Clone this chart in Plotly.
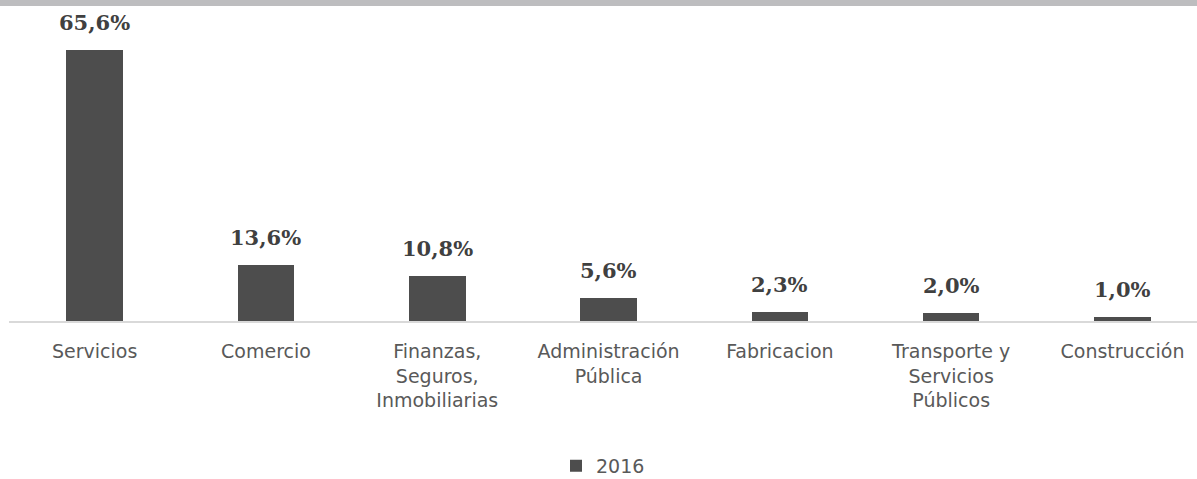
import plotly.graph_objects as go

# Distribución por sector, 2016
sectores = [
    "Servicios",
    "Comercio",
    "Finanzas,<br>Seguros,<br>Inmobiliarias",
    "Administración<br>Pública",
    "Fabricacion",
    "Transporte y<br>Servicios<br>Públicos",
    "Construcción",
]
valores_2016 = [65.6, 13.6, 10.8, 5.6, 2.3, 2.0, 1.0]
serie = "2016"

W, H = 1197, 479
bar_color = "#4d4d4d"
text_color = "#595959"

fig = go.Figure()
fig.add_trace(go.Bar(
    x=sectores,
    y=valores_2016,
    name=serie,
    marker=dict(color=bar_color, line=dict(width=0)),
    width=0.33,
    showlegend=True,
))

# Etiquetas de valor sobre cada barra
for s, v in zip(sectores, valores_2016):
    fig.add_annotation(
        x=s, y=v, yref="y", xref="x",
        text=f"<b>{v:.1f}%</b>".replace(".", ","),
        showarrow=False, yanchor="bottom", yshift=13,
        font=dict(family="DejaVu Serif", size=21, color="#404040"),
    )

# Franja gris superior
fig.add_shape(type="rect", xref="paper", yref="paper",
              x0=-0.02, x1=1.02, y0=1.0, y1=1.03,
              fillcolor="#bdbdbf", line=dict(width=0), layer="above")

fig.update_layout(
    width=W, height=H,
    margin=dict(l=9, r=0, t=6, b=158, autoexpand=False),
    paper_bgcolor="white",
    plot_bgcolor="white",
    bargap=0,
    xaxis=dict(
        type="category",
        range=[-0.5, 6.435],
        automargin=False,
        showline=True, linecolor="#d9d9d9", linewidth=2,
        showgrid=False, ticks="",
        ticklabelstandoff=12,
        tickfont=dict(family="DejaVu Sans", size=19, color=text_color),
    ),
    yaxis=dict(
        range=[0, 76.3],
        visible=False,
        automargin=False,
        showgrid=False, zeroline=False,
    ),
    legend=dict(
        orientation="h",
        x=0.5, xanchor="center",
        y=-0.46, yanchor="middle",
        font=dict(family="DejaVu Sans", size=19, color=text_color),
        itemwidth=30,
    ),
)

fig.write_html("out.html")
